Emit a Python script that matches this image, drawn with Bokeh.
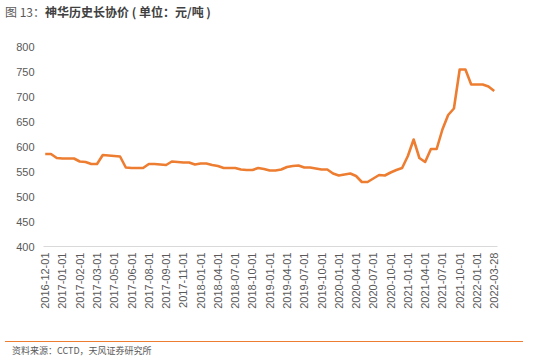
import math
from bokeh.plotting import figure
from bokeh.models import Div, Range1d, FixedTicker
from bokeh.layouts import column
from bokeh.embed import file_html
from bokeh.resources import INLINE

# ---- data ----
tick_labels = [
    "2016-12-01", "2017-01-01", "2017-02-01", "2017-03-01", "2017-05-01",
    "2017-06-01", "2017-08-01", "2017-09-01", "2017-11-01", "2018-01-01",
    "2018-04-01", "2018-07-01", "2018-10-01", "2019-01-01", "2019-04-01",
    "2019-07-01", "2019-10-01", "2020-01-01", "2020-04-01", "2020-07-01",
    "2020-10-01", "2021-01-01", "2021-04-01", "2021-07-01", "2021-10-01",
    "2022-01-01", "2022-03-28",
]
prices = [
    585, 585, 577, 576, 576, 576, 570, 569, 565, 565,
    583, 582, 581, 580, 558, 557, 557, 557, 565, 565,
    564, 563, 570, 569, 568, 568, 564, 566, 566, 563,
    561, 557, 557, 557, 554, 553, 553, 557, 555, 552,
    552, 554, 559, 561, 562, 558, 558, 556, 554, 554,
    546, 542, 544, 546, 541, 529, 529, 536, 543, 542,
    548, 553, 557, 581, 614, 577, 569, 595, 595, 634,
    663, 676, 754, 754, 724, 724, 724, 720, 711,
]
y_ticks = [400, 450, 500, 550, 600, 650, 700, 750, 800]
title_prefix = "图 13："
title_main = "神华历史长协价 ( 单位：元/吨 )"
source_text = "资料来源：CCTD，天风证券研究所"

# ---- layout ----
n = len(prices)
xs = list(range(n))
step = (n - 1) / (len(tick_labels) - 1)
tick_pos = [round(i * step) for i in range(len(tick_labels))]

ORANGE = "#ED7D31"
GRAY = "#595959"

title_div = Div(
    text=(f'<div style="font-family:\'Noto Sans CJK SC\',sans-serif;font-size:12px;'
          f'color:#404040;line-height:13px;white-space:nowrap;">'
          f'<span style="color:#595959">{title_prefix}</span><b>{title_main}</b></div>'),
    width=518, height=15,
)

# orange rule under the title, drawn as a tiny figure
rule = figure(width=518, height=2, output_backend="svg", toolbar_location=None,
              x_axis_type=None, y_axis_type=None, min_border=0,
              x_range=Range1d(0, 1), y_range=Range1d(0, 1))
rule.outline_line_color = None
rule.grid.visible = False
rule.background_fill_color = ORANGE
rule.border_fill_color = ORANGE

p = figure(width=518, height=309, output_backend="svg", toolbar_location=None,
           x_range=Range1d(-0.3, n - 1 + 0.57), y_range=Range1d(400, 800),
           min_border_left=43, min_border_right=21, min_border_top=19,
           min_border_bottom=90)
p.outline_line_color = None
p.grid.visible = False
p.background_fill_color = "white"
p.border_fill_color = "white"

p.line(xs, prices, line_color=ORANGE, line_width=2.6, line_join="round")

p.yaxis.ticker = FixedTicker(ticks=y_ticks)
p.yaxis.axis_line_color = None
p.yaxis.major_tick_line_color = None
p.yaxis.minor_tick_line_color = None
p.yaxis.major_tick_out = 0
p.yaxis.major_label_standoff = 9
p.yaxis.major_label_text_font = "Liberation Sans"
p.yaxis.major_label_text_font_size = "11px"
p.yaxis.major_label_text_color = GRAY

p.xaxis.ticker = FixedTicker(ticks=tick_pos)
p.xaxis.major_label_overrides = {tp: lab for tp, lab in zip(tick_pos, tick_labels)}
p.xaxis.major_label_orientation = math.pi / 2
p.xaxis.axis_line_color = "#D9D9D9"
p.xaxis.axis_line_width = 1
p.xaxis.major_tick_line_color = None
p.xaxis.minor_tick_line_color = None
p.xaxis.major_tick_out = 0
p.xaxis.major_label_standoff = 6
p.xaxis.major_label_text_font = "Liberation Sans"
p.xaxis.major_label_text_font_size = "11px"
p.xaxis.major_label_text_color = GRAY

source_div = Div(
    text=(f'<div style="font-family:\'Noto Sans CJK SC\',sans-serif;font-size:9px;'
          f'color:{GRAY};width:518px;border-top:1.5px solid {ORANGE};'
          f'padding-top:3px;padding-left:7px;white-space:nowrap;">{source_text}</div>'),
    width=518, height=20,
)

layout = column(title_div, rule, p, source_div, spacing=0)

with open("out.html", "w") as f:
    f.write(file_html(layout, INLINE))
